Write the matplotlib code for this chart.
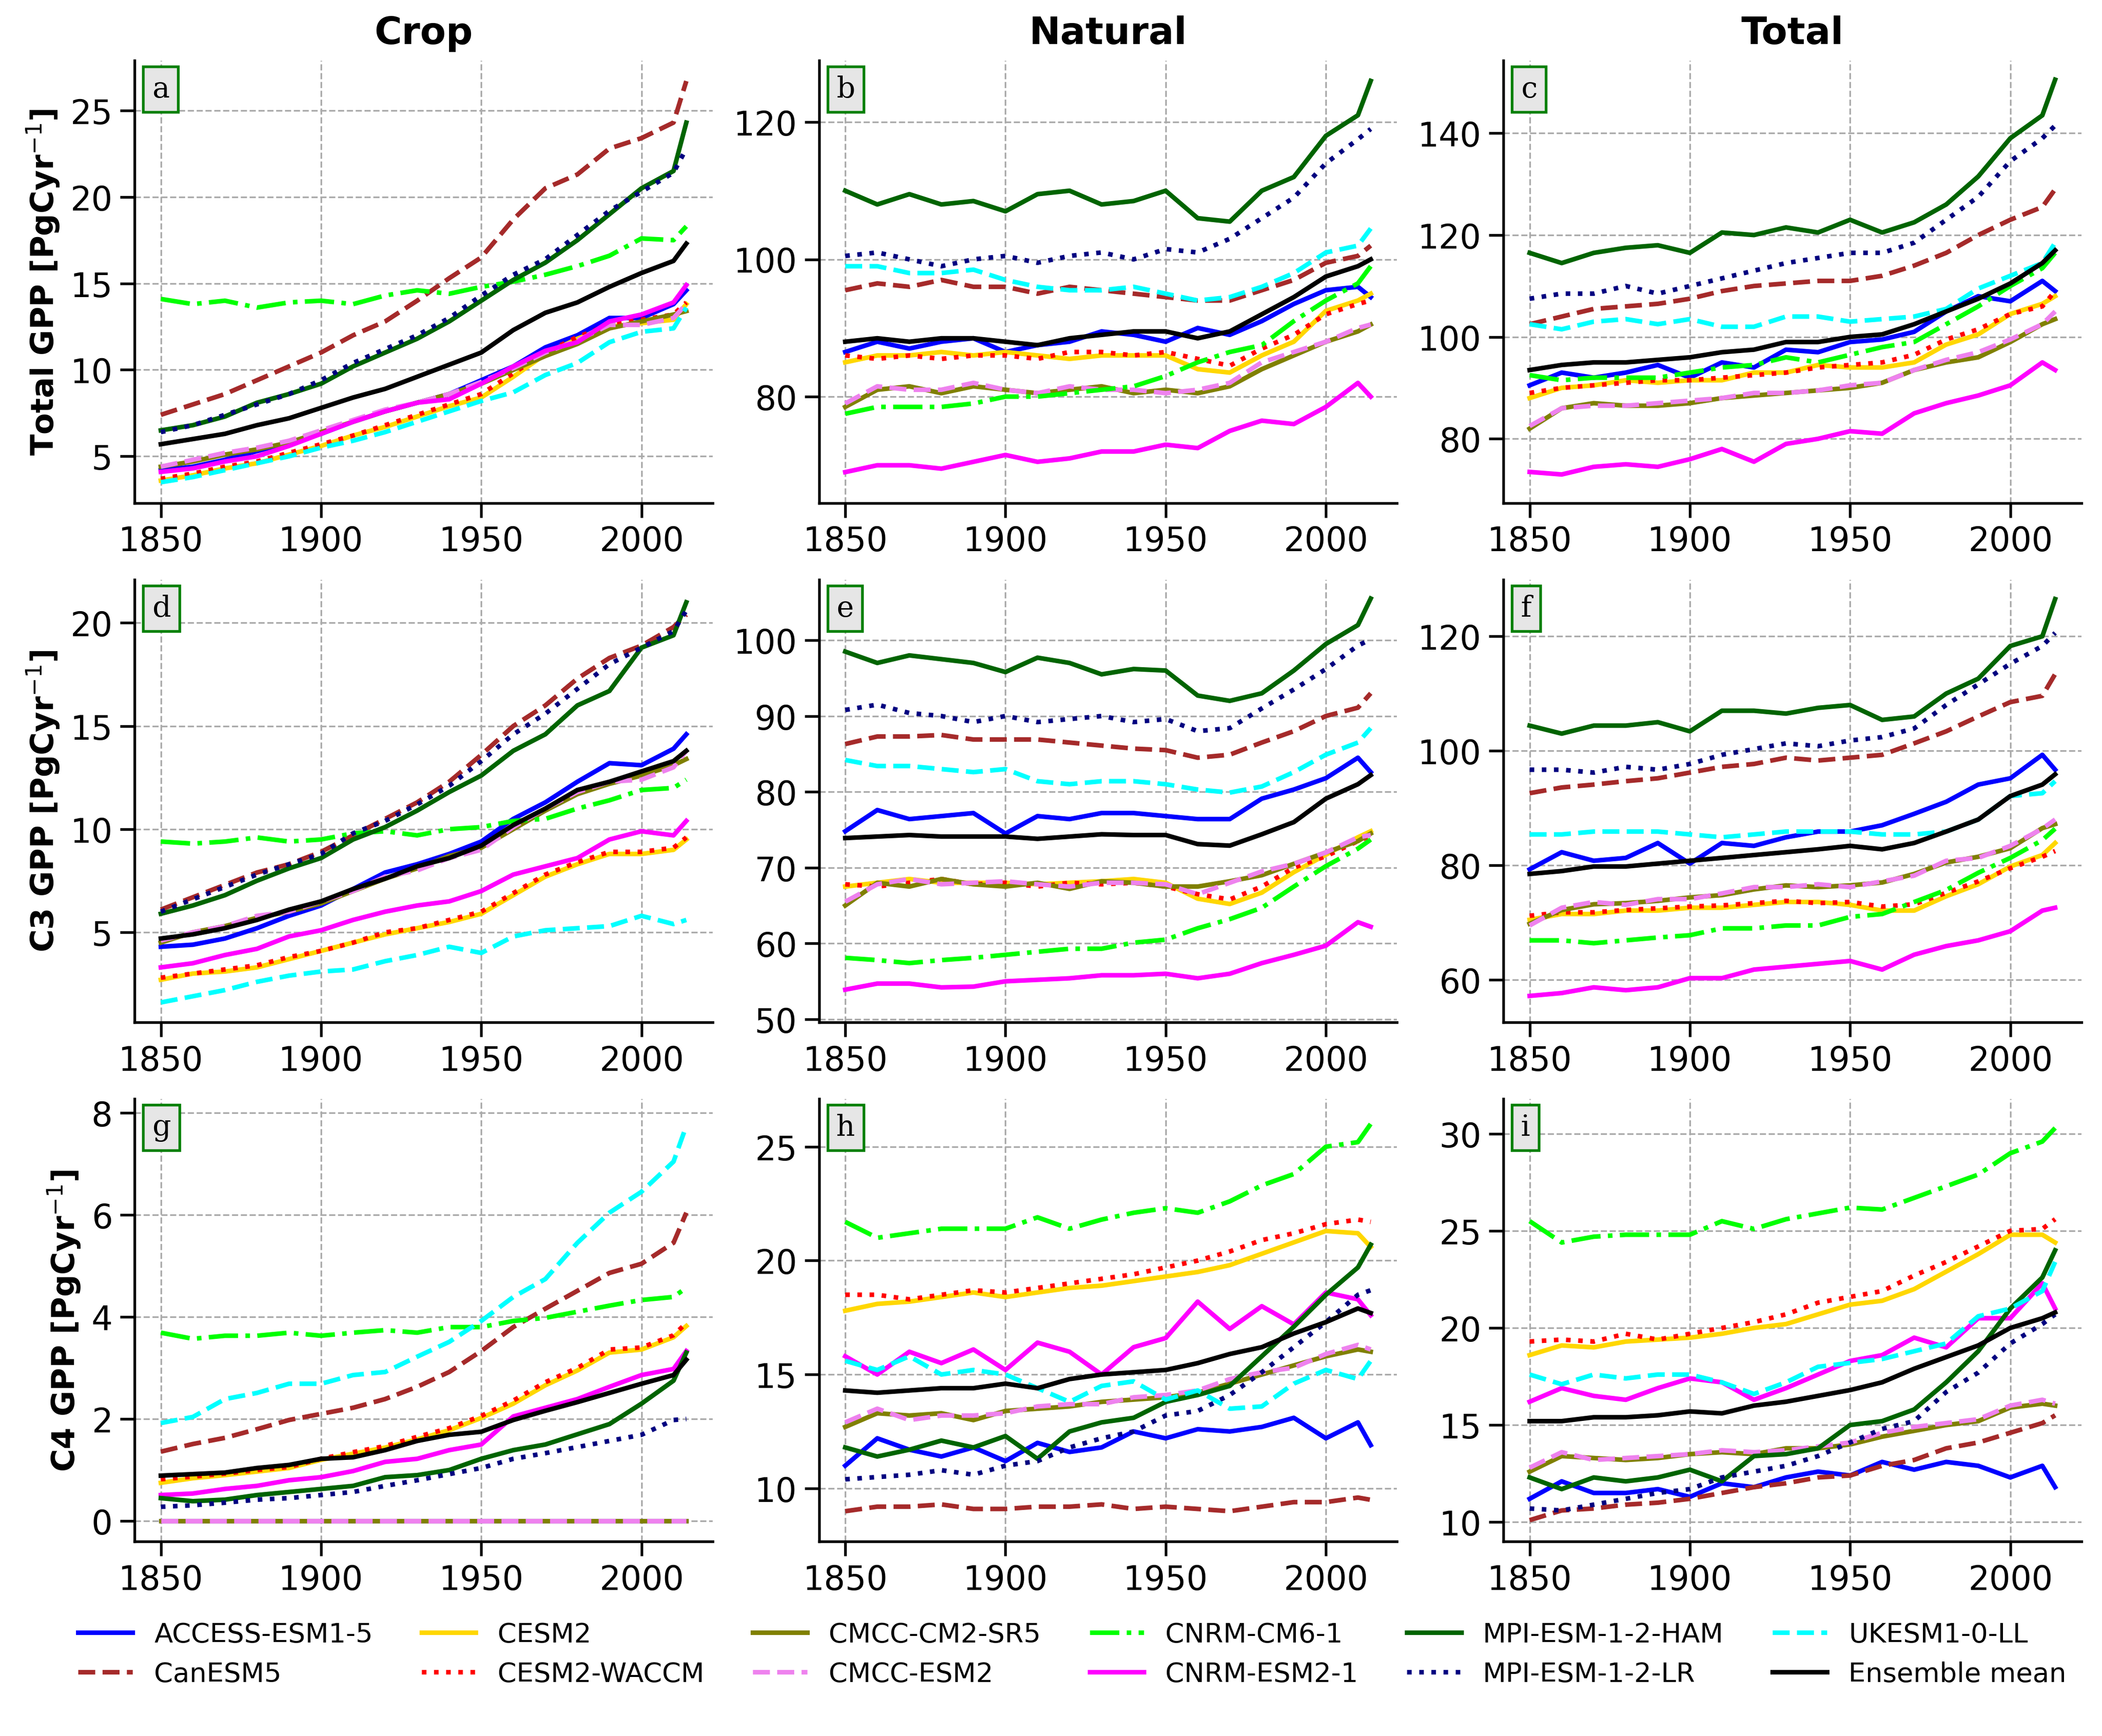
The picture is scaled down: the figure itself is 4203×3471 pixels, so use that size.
import matplotlib
matplotlib.use("Agg")
import matplotlib.pyplot as plt
from matplotlib.ticker import MultipleLocator

YEARS = [1850, 1860, 1870, 1880, 1890, 1900, 1910, 1920, 1930, 1940,
         1950, 1960, 1970, 1980, 1990, 2000, 2010, 2014]

MODELS = ["ACCESS-ESM1-5", "CanESM5", "CESM2", "CESM2-WACCM", "CMCC-CM2-SR5",
          "CMCC-ESM2", "CNRM-CM6-1", "CNRM-ESM2-1", "MPI-ESM-1-2-HAM",
          "MPI-ESM-1-2-LR", "UKESM1-0-LL", "Ensemble mean"]

COLUMN_TITLES = ["Crop", "Natural", "Total"]
ROW_LABELS = ["Total GPP [PgCyr$^{-1}$]", "C3 GPP [PgCyr$^{-1}$]", "C4 GPP [PgCyr$^{-1}$]"]
PANEL_LETTERS = ["a", "b", "c", "d", "e", "f", "g", "h", "i"]
X_TICKS = [1850, 1900, 1950, 2000]
Y_STEPS = [5, 20, 20, 5, 10, 20, 2, 5, 5]
Y_LIMITS = [(2.3, 27.9), (64.5, 129.0), (67.4, 154.3),
            (0.64, 22.1), (49.6, 108.0), (52.6, 129.9),
            (-0.4, 8.27), (7.67, 27.1), (9.0, 31.8)]

# ---- panel a: Total GPP, crop ----
panel_a = {
    "ACCESS-ESM1-5": [4.2, 4.4, 4.8, 5.3, 5.8, 6.3, 7.0, 7.6, 8.1, 8.6, 9.4, 10.2, 11.3, 12.0, 13.0, 13.0, 13.8, 14.6],
    "CanESM5": [7.4, 8.0, 8.6, 9.4, 10.2, 11.0, 12.0, 12.8, 14.0, 15.3, 16.5, 18.7, 20.5, 21.3, 22.8, 23.4, 24.3, 26.7],
    "CESM2": [3.6, 3.9, 4.3, 4.6, 5.1, 5.6, 6.2, 6.7, 7.3, 7.9, 8.4, 9.6, 10.9, 11.8, 12.5, 12.7, 12.9, 13.8],
    "CESM2-WACCM": [3.7, 4.0, 4.4, 4.7, 5.2, 5.7, 6.2, 6.8, 7.4, 8.0, 8.6, 9.8, 11.0, 11.9, 12.6, 12.9, 13.2, 13.9],
    "CMCC-CM2-SR5": [4.4, 4.7, 5.1, 5.4, 5.8, 6.4, 7.0, 7.6, 8.1, 8.6, 9.2, 10.0, 10.8, 11.5, 12.4, 12.8, 13.2, 13.4],
    "CMCC-ESM2": [4.4, 4.8, 5.2, 5.5, 5.9, 6.5, 7.1, 7.7, 8.1, 8.6, 9.3, 10.1, 11.0, 11.7, 12.6, 12.6, 13.0, 13.8],
    "CNRM-CM6-1": [14.1, 13.8, 14.0, 13.6, 13.9, 14.0, 13.8, 14.3, 14.6, 14.4, 14.8, 15.1, 15.5, 16.0, 16.6, 17.6, 17.5, 18.3],
    "CNRM-ESM2-1": [4.1, 4.3, 4.7, 5.0, 5.6, 6.3, 7.0, 7.6, 8.1, 8.3, 9.2, 10.2, 11.1, 11.6, 12.8, 13.2, 13.9, 14.9],
    "MPI-ESM-1-2-HAM": [6.5, 6.8, 7.3, 8.1, 8.6, 9.2, 10.2, 11.0, 11.8, 12.8, 14.0, 15.2, 16.2, 17.5, 19.0, 20.5, 21.5, 24.3],
    "MPI-ESM-1-2-LR": [6.4, 6.8, 7.4, 8.0, 8.6, 9.4, 10.4, 11.2, 12.0, 13.0, 14.3, 15.5, 16.4, 17.8, 19.2, 20.3, 21.4, 22.8],
    "UKESM1-0-LL": [3.5, 3.8, 4.2, 4.6, 5.0, 5.5, 5.9, 6.4, 7.0, 7.6, 8.2, 8.7, 9.7, 10.4, 11.6, 12.2, 12.4, 13.6],
    "Ensemble mean": [5.7, 6.0, 6.3, 6.8, 7.2, 7.8, 8.4, 8.9, 9.6, 10.3, 11.0, 12.3, 13.3, 13.9, 14.8, 15.6, 16.3, 17.3],
}

# ---- panel b: Total GPP, natural ----
panel_b = {
    "ACCESS-ESM1-5": [86.5, 88, 87, 88, 88.5, 86.5, 87.5, 88, 89.5, 89, 88, 90, 89, 91, 93.5, 95.5, 96, 94.5],
    "CanESM5": [95.5, 96.5, 96, 97, 96, 96, 95, 96, 95.5, 95, 94.5, 94, 94, 95.5, 97, 99.5, 100.5, 102],
    "CESM2": [85, 86, 86, 86.5, 86, 86.5, 86, 85.5, 86, 86, 86, 84, 83.5, 86, 88, 92.5, 94, 95],
    "CESM2-WACCM": [86, 85.5, 86, 85.5, 86, 86, 85.5, 86.5, 86.5, 86, 86.5, 85.5, 84.5, 87, 89, 92, 93.5, 94],
    "CMCC-CM2-SR5": [78.5, 81, 81.5, 80.5, 81.5, 81, 80.5, 81, 81.5, 80.5, 81, 80.5, 81.5, 84, 86, 88, 89.5, 90.5],
    "CMCC-ESM2": [79, 81.5, 81, 81, 82, 81, 80.5, 81.5, 81, 81, 80.5, 81, 82, 85, 86.5, 88, 90, 90.5],
    "CNRM-CM6-1": [77.5, 78.5, 78.5, 78.5, 79, 80, 80, 80.5, 81, 81.5, 83, 85, 86.5, 87.5, 91, 94, 96.5, 99],
    "CNRM-ESM2-1": [69, 70, 70, 69.5, 70.5, 71.5, 70.5, 71, 72, 72, 73, 72.5, 75, 76.5, 76, 78.5, 82, 80],
    "MPI-ESM-1-2-HAM": [110, 108, 109.5, 108, 108.5, 107, 109.5, 110, 108, 108.5, 110, 106, 105.5, 110, 112, 118, 121, 126],
    "MPI-ESM-1-2-LR": [100.5, 101, 100, 99, 100, 100.5, 99.5, 100.5, 101, 100, 101.5, 101, 103, 106, 109, 114, 117.5, 119],
    "UKESM1-0-LL": [99, 99, 98, 98, 98.5, 97, 96, 95.5, 95.5, 96, 95, 94, 94.5, 96, 98, 101, 102, 104.5],
    "Ensemble mean": [88, 88.5, 88, 88.5, 88.5, 88, 87.5, 88.5, 89, 89.5, 89.5, 88.5, 89.5, 92, 94.5, 97.5, 99, 100],
}

# ---- panel c: Total GPP, total ----
panel_c = {
    "ACCESS-ESM1-5": [90.5, 93, 92, 93, 94.5, 92, 95, 94, 97.5, 97, 99, 99.5, 101, 105, 108, 107, 111, 109],
    "CanESM5": [102.5, 104, 105.5, 106, 106.5, 107.5, 109, 110, 110.5, 111, 111, 112, 114, 116.5, 120, 123, 125.5, 129],
    "CESM2": [88, 90, 90.5, 91.5, 91, 91.5, 91.5, 93, 93, 94.5, 94, 94, 95, 98.5, 100.5, 104.5, 106.5, 108],
    "CESM2-WACCM": [89, 90, 90.5, 91, 91.5, 91.5, 92, 92.5, 93, 94, 94.5, 95, 96.5, 99.5, 101.5, 104.5, 106, 109],
    "CMCC-CM2-SR5": [82, 86, 87, 86.5, 86.5, 87, 88, 88.5, 89, 89.5, 90, 91, 93.5, 95, 96, 99, 102.5, 103.5],
    "CMCC-ESM2": [82.5, 86, 86.5, 86.5, 87, 87.5, 88, 89, 89, 89.5, 90.5, 91, 93.5, 95.5, 97, 99.5, 102.5, 105],
    "CNRM-CM6-1": [92.5, 91.5, 92, 92, 92, 93, 94, 94.5, 96, 95, 96.5, 98, 99, 102.5, 106, 110, 113.5, 116.5],
    "CNRM-ESM2-1": [73.5, 73, 74.5, 75, 74.5, 76, 78, 75.5, 79, 80, 81.5, 81, 85, 87, 88.5, 90.5, 95, 93.5],
    "MPI-ESM-1-2-HAM": [116.5, 114.5, 116.5, 117.5, 118, 116.5, 120.5, 120, 121.5, 120.5, 123, 120.5, 122.5, 126, 131.5, 139, 143.5, 150.5],
    "MPI-ESM-1-2-LR": [107.5, 108.5, 108.5, 110, 108.5, 110, 111.5, 113, 114.5, 115.5, 116.5, 116.5, 118.5, 123, 127.5, 134.5, 139, 141.5],
    "UKESM1-0-LL": [102.5, 101.5, 103, 103.5, 102.5, 103.5, 102, 102, 104, 104, 103, 103.5, 104, 105.5, 109.5, 112, 114.5, 118.5],
    "Ensemble mean": [93.5, 94.5, 95, 95, 95.5, 96, 97, 97.5, 99, 99, 100, 100.5, 102.5, 105, 107.5, 110.5, 114.5, 117],
}

# ---- panel d: C3 GPP, crop ----
panel_d = {
    "ACCESS-ESM1-5": [4.3, 4.4, 4.7, 5.2, 5.8, 6.3, 7.1, 7.9, 8.3, 8.8, 9.4, 10.5, 11.3, 12.3, 13.2, 13.1, 13.9, 14.6],
    "CanESM5": [6.1, 6.7, 7.3, 7.9, 8.3, 8.9, 9.7, 10.5, 11.3, 12.3, 13.6, 15.0, 16.0, 17.3, 18.3, 18.9, 19.8, 20.4],
    "CESM2": [2.7, 3.0, 3.1, 3.3, 3.7, 4.1, 4.5, 4.9, 5.2, 5.5, 5.9, 6.8, 7.7, 8.3, 8.8, 8.8, 9.0, 9.5],
    "CESM2-WACCM": [2.8, 3.0, 3.2, 3.4, 3.8, 4.1, 4.5, 5.0, 5.2, 5.6, 6.0, 6.9, 7.8, 8.4, 8.9, 8.9, 9.1, 9.6],
    "CMCC-CM2-SR5": [4.5, 5.0, 5.3, 5.7, 6.0, 6.4, 7.0, 7.6, 8.1, 8.7, 9.1, 10.0, 10.9, 11.7, 12.2, 12.6, 13.1, 13.4],
    "CMCC-ESM2": [4.6, 5.0, 5.3, 5.8, 6.0, 6.5, 7.0, 7.7, 8.0, 8.6, 9.0, 10.1, 11.0, 11.8, 12.3, 12.4, 13.0, 13.8],
    "CNRM-CM6-1": [9.4, 9.3, 9.4, 9.6, 9.4, 9.5, 9.8, 9.9, 9.7, 10.0, 10.1, 10.4, 10.5, 11.0, 11.4, 11.9, 12.0, 12.4],
    "CNRM-ESM2-1": [3.3, 3.5, 3.9, 4.2, 4.8, 5.1, 5.6, 6.0, 6.3, 6.5, 7.0, 7.8, 8.2, 8.6, 9.5, 9.9, 9.7, 10.4],
    "MPI-ESM-1-2-HAM": [5.9, 6.3, 6.8, 7.5, 8.1, 8.6, 9.5, 10.1, 10.9, 11.8, 12.6, 13.8, 14.6, 16.0, 16.7, 18.8, 19.4, 21.0],
    "MPI-ESM-1-2-LR": [6.0, 6.6, 7.2, 7.8, 8.3, 8.8, 9.8, 10.4, 11.2, 12.1, 13.3, 14.6, 15.6, 16.8, 18.0, 18.8, 19.6, 20.6],
    "UKESM1-0-LL": [1.6, 1.9, 2.2, 2.6, 2.9, 3.1, 3.2, 3.6, 3.9, 4.3, 4.0, 4.8, 5.1, 5.2, 5.3, 5.8, 5.4, 5.6],
    "Ensemble mean": [4.7, 4.9, 5.2, 5.6, 6.1, 6.5, 7.1, 7.6, 8.2, 8.6, 9.2, 10.2, 11.0, 11.9, 12.3, 12.8, 13.3, 13.8],
}

# ---- panel e: C3 GPP, natural ----
panel_e = {
    "ACCESS-ESM1-5": [74.8, 77.6, 76.4, 76.8, 77.2, 74.5, 76.8, 76.4, 77.2, 77.2, 76.8, 76.4, 76.4, 79.1, 80.3, 81.8, 84.5, 82.6],
    "CanESM5": [86.3, 87.3, 87.3, 87.5, 86.9, 86.9, 86.9, 86.5, 86.1, 85.7, 85.5, 84.5, 84.9, 86.5, 88, 90, 91.1, 93],
    "CESM2": [67.5, 68, 68.5, 68, 68, 68, 67.8, 68, 68.2, 68.5, 68, 65.9, 65.2, 66.7, 69.4, 71.7, 74, 74.8],
    "CESM2-WACCM": [67.8, 67.5, 68, 68.5, 67.8, 68, 67.5, 68, 67.8, 68, 67.5, 66.5, 65.8, 67.5, 70, 71.5, 73.5, 74.2],
    "CMCC-CM2-SR5": [65, 68, 67.5, 68.5, 67.8, 67.5, 68, 67.2, 68.2, 68, 67.5, 67.5, 68.2, 69, 70.5, 72, 73.5, 74.5],
    "CMCC-ESM2": [65.5, 67.8, 68.5, 67.8, 68, 68.2, 67.8, 67.5, 68, 68, 67.8, 66.5, 68, 69.5, 70.5, 72, 74, 74.3],
    "CNRM-CM6-1": [58.1, 57.8, 57.4, 57.8, 58.1, 58.5, 58.9, 59.3, 59.3, 60.1, 60.5, 62, 63.2, 64.7, 67.5, 70.2, 72.5, 73.7],
    "CNRM-ESM2-1": [53.9, 54.7, 54.7, 54.2, 54.3, 55, 55.2, 55.4, 55.8, 55.8, 56, 55.4, 56, 57.4, 58.5, 59.7, 62.8, 62.2],
    "MPI-ESM-1-2-HAM": [98.5, 97, 98, 97.5, 97, 95.8, 97.7, 97, 95.5, 96.2, 96, 92.7, 92, 93, 96, 99.5, 102, 105.5],
    "MPI-ESM-1-2-LR": [90.8, 91.5, 90.4, 90, 89.2, 90, 89.2, 89.6, 90, 89.2, 89.6, 88, 88.4, 91, 93.5, 96.2, 99.3, 100.1],
    "UKESM1-0-LL": [84.2, 83.4, 83.4, 83, 82.6, 83, 81.4, 81, 81.4, 81.4, 81, 80.3, 79.9, 80.7, 82.6, 84.9, 86.5, 88.4],
    "Ensemble mean": [73.9, 74.1, 74.3, 74.1, 74.1, 74.1, 73.8, 74.1, 74.4, 74.3, 74.3, 73.1, 72.9, 74.4, 76, 79.1, 81, 82.2],
}

# ---- panel f: C3 GPP, total ----
panel_f = {
    "ACCESS-ESM1-5": [79.3, 82.3, 80.8, 81.3, 83.9, 80.3, 83.9, 83.4, 84.9, 85.9, 85.9, 87, 89, 91.1, 94.1, 95.2, 99.3, 96.7],
    "CanESM5": [92.6, 93.6, 94.1, 94.7, 95.2, 96.2, 97.2, 97.7, 98.8, 98.3, 98.8, 99.3, 101.3, 103.4, 106, 108.5, 109.6, 113.4],
    "CESM2": [70.5, 71.5, 71.5, 72.1, 72.1, 72.6, 72.6, 73.1, 73.6, 73.6, 73.1, 72.1, 72.1, 74.6, 76.7, 79.8, 81.8, 83.9],
    "CESM2-WACCM": [71.2, 71.8, 71.8, 72.2, 72.5, 72.8, 73, 73.4, 73.8, 73.4, 73.6, 72.8, 73.2, 75.2, 77.2, 79.5, 81.5, 82.5],
    "CMCC-CM2-SR5": [69.8, 72.2, 73.2, 73.4, 73.8, 74.4, 74.8, 75.8, 76.5, 76.2, 76.5, 77, 78.5, 80.5, 81.5, 83, 86.5, 87.2],
    "CMCC-ESM2": [69.5, 72.6, 73.6, 73.1, 74.1, 74.1, 75.1, 76.2, 76.2, 76.7, 76.2, 77.2, 78.2, 80.8, 81.3, 83.4, 86.4, 88],
    "CNRM-CM6-1": [66.9, 66.9, 66.4, 66.9, 67.4, 67.8, 69, 69, 69.5, 69.5, 71, 71.5, 73.6, 75.7, 78.7, 81.3, 84.4, 86.4],
    "CNRM-ESM2-1": [57.2, 57.7, 58.7, 58.2, 58.7, 60.3, 60.3, 61.8, 62.3, 62.8, 63.3, 61.8, 64.4, 65.9, 66.9, 68.5, 72.1, 72.6],
    "MPI-ESM-1-2-HAM": [104.4, 103, 104.4, 104.4, 105, 103.4, 107, 107, 106.5, 107.5, 108, 105.4, 106, 110, 112.6, 118.3, 120, 126.5],
    "MPI-ESM-1-2-LR": [96.7, 96.7, 96.2, 97.2, 96.7, 97.7, 99.3, 100.3, 101.3, 100.8, 101.8, 102.4, 103.9, 108, 111.6, 115.2, 118.3, 120.6],
    "UKESM1-0-LL": [85.4, 85.4, 85.9, 85.9, 85.9, 85.4, 84.9, 85.4, 85.9, 85.9, 85.9, 85.4, 85.4, 85.9, 88, 92.1, 92.6, 94.7],
    "Ensemble mean": [78.5, 79, 79.8, 79.8, 80.3, 80.8, 81.3, 81.8, 82.3, 82.8, 83.4, 82.8, 83.9, 85.9, 88, 92.1, 94.1, 95.9],
}

# ---- panel g: C4 GPP, crop ----
panel_g = {
    "ACCESS-ESM1-5": [0.0, 0.0, 0.0, 0.0, 0.0, 0.0, 0.0, 0.0, 0.0, 0.0, 0.0, 0.0, 0.0, 0.0, 0.0, 0.0, 0.0, 0.0],
    "CanESM5": [1.36, 1.51, 1.63, 1.8, 1.98, 2.1, 2.22, 2.39, 2.63, 2.92, 3.33, 3.8, 4.16, 4.51, 4.86, 5.04, 5.45, 6.04],
    "CESM2": [0.75, 0.84, 0.9, 0.97, 1.04, 1.2, 1.32, 1.44, 1.6, 1.78, 2.02, 2.3, 2.66, 2.95, 3.3, 3.36, 3.6, 3.82],
    "CESM2-WACCM": [0.82, 0.87, 0.93, 1.0, 1.06, 1.22, 1.35, 1.47, 1.65, 1.82, 2.06, 2.36, 2.72, 3.0, 3.36, 3.4, 3.64, 3.88],
    "CMCC-CM2-SR5": [0.0, 0.0, 0.0, 0.0, 0.0, 0.0, 0.0, 0.0, 0.0, 0.0, 0.0, 0.0, 0.0, 0.0, 0.0, 0.0, 0.0, 0.0],
    "CMCC-ESM2": [0.0, 0.0, 0.0, 0.0, 0.0, 0.0, 0.0, 0.0, 0.0, 0.0, 0.0, 0.0, 0.0, 0.0, 0.0, 0.0, 0.0, 0.0],
    "CNRM-CM6-1": [3.69, 3.57, 3.63, 3.63, 3.69, 3.63, 3.69, 3.74, 3.69, 3.8, 3.8, 3.92, 3.98, 4.1, 4.22, 4.33, 4.39, 4.57],
    "CNRM-ESM2-1": [0.51, 0.54, 0.63, 0.69, 0.8, 0.86, 0.98, 1.16, 1.22, 1.39, 1.5, 2.05, 2.22, 2.39, 2.63, 2.86, 2.98, 3.33],
    "MPI-ESM-1-2-HAM": [0.45, 0.39, 0.42, 0.51, 0.57, 0.63, 0.69, 0.86, 0.9, 1.0, 1.22, 1.39, 1.5, 1.7, 1.9, 2.3, 2.75, 3.3],
    "MPI-ESM-1-2-LR": [0.28, 0.31, 0.36, 0.42, 0.45, 0.51, 0.57, 0.69, 0.8, 0.92, 1.04, 1.22, 1.33, 1.45, 1.57, 1.69, 1.98, 2.0],
    "UKESM1-0-LL": [1.92, 2.04, 2.39, 2.51, 2.69, 2.69, 2.86, 2.92, 3.22, 3.51, 3.92, 4.39, 4.74, 5.45, 6.04, 6.45, 7.04, 7.74],
    "Ensemble mean": [0.89, 0.92, 0.95, 1.04, 1.1, 1.22, 1.25, 1.39, 1.57, 1.69, 1.75, 1.98, 2.16, 2.33, 2.51, 2.69, 2.86, 3.16],
}

# ---- panel h: C4 GPP, natural ----
panel_h = {
    "ACCESS-ESM1-5": [11.0, 12.2, 11.7, 11.4, 11.8, 11.2, 12.0, 11.6, 11.8, 12.5, 12.2, 12.6, 12.5, 12.7, 13.1, 12.2, 12.9, 11.9],
    "CanESM5": [9.0, 9.2, 9.2, 9.3, 9.1, 9.1, 9.2, 9.2, 9.3, 9.1, 9.2, 9.1, 9.0, 9.2, 9.4, 9.4, 9.6, 9.5],
    "CESM2": [17.8, 18.1, 18.2, 18.4, 18.6, 18.4, 18.6, 18.8, 18.9, 19.1, 19.3, 19.5, 19.8, 20.3, 20.8, 21.3, 21.2, 20.6],
    "CESM2-WACCM": [18.5, 18.5, 18.3, 18.5, 18.7, 18.6, 18.8, 19.0, 19.2, 19.4, 19.7, 20.0, 20.4, 20.9, 21.2, 21.6, 21.8, 21.7],
    "CMCC-CM2-SR5": [12.7, 13.3, 13.2, 13.3, 13.0, 13.4, 13.5, 13.6, 13.8, 13.9, 14.0, 14.2, 14.6, 15.0, 15.4, 15.8, 16.1, 16.0],
    "CMCC-ESM2": [12.9, 13.5, 13.0, 13.2, 13.2, 13.3, 13.6, 13.7, 13.7, 14.0, 14.1, 14.3, 14.8, 15.1, 15.3, 15.9, 16.3, 16.1],
    "CNRM-CM6-1": [21.7, 21.0, 21.2, 21.4, 21.4, 21.4, 21.9, 21.4, 21.8, 22.1, 22.3, 22.1, 22.6, 23.3, 23.8, 25.0, 25.2, 26.0],
    "CNRM-ESM2-1": [15.8, 15.0, 16.0, 15.5, 16.1, 15.2, 16.4, 16.0, 15.0, 16.2, 16.6, 18.2, 17.0, 18.0, 17.2, 18.6, 18.3, 17.6],
    "MPI-ESM-1-2-HAM": [11.8, 11.4, 11.7, 12.1, 11.8, 12.3, 11.3, 12.5, 12.9, 13.1, 13.8, 14.1, 14.5, 15.8, 17.1, 18.5, 19.7, 20.7],
    "MPI-ESM-1-2-LR": [10.4, 10.5, 10.6, 10.8, 10.6, 11.0, 11.2, 11.8, 12.2, 12.5, 13.2, 13.4, 14.1, 15.1, 16.2, 17.3, 18.5, 18.7],
    "UKESM1-0-LL": [15.6, 15.2, 15.8, 15.0, 15.2, 15.0, 14.4, 13.8, 14.5, 14.7, 13.9, 14.3, 13.5, 13.6, 14.6, 15.2, 14.8, 15.6],
    "Ensemble mean": [14.3, 14.2, 14.3, 14.4, 14.4, 14.6, 14.4, 14.8, 15.0, 15.1, 15.2, 15.5, 15.9, 16.2, 16.8, 17.3, 17.9, 17.7],
}

# ---- panel i: C4 GPP, total ----
panel_i = {
    "ACCESS-ESM1-5": [11.2, 12.1, 11.5, 11.5, 11.7, 11.3, 12.0, 11.8, 12.3, 12.6, 12.4, 13.1, 12.7, 13.1, 12.9, 12.3, 12.9, 11.8],
    "CanESM5": [10.1, 10.6, 10.7, 10.9, 11.0, 11.2, 11.5, 11.8, 12.0, 12.3, 12.4, 12.9, 13.2, 13.8, 14.1, 14.6, 15.1, 15.5],
    "CESM2": [18.6, 19.1, 19.0, 19.3, 19.4, 19.5, 19.7, 20.0, 20.2, 20.7, 21.2, 21.4, 22.0, 22.9, 23.8, 24.8, 24.8, 24.4],
    "CESM2-WACCM": [19.3, 19.4, 19.3, 19.7, 19.4, 19.7, 20.0, 20.3, 20.7, 21.3, 21.6, 21.9, 22.7, 23.4, 24.2, 25.0, 25.1, 25.6],
    "CMCC-CM2-SR5": [12.6, 13.4, 13.3, 13.2, 13.3, 13.5, 13.6, 13.5, 13.8, 13.8, 14.0, 14.4, 14.7, 15.0, 15.2, 15.9, 16.1, 16.0],
    "CMCC-ESM2": [12.8, 13.6, 13.2, 13.3, 13.4, 13.5, 13.7, 13.6, 13.7, 13.9, 14.1, 14.6, 14.9, 15.1, 15.3, 16.0, 16.3, 16.1],
    "CNRM-CM6-1": [25.5, 24.4, 24.7, 24.8, 24.8, 24.8, 25.5, 25.1, 25.6, 25.9, 26.2, 26.1, 26.7, 27.3, 27.9, 29.0, 29.6, 30.3],
    "CNRM-ESM2-1": [16.2, 16.9, 16.5, 16.3, 16.9, 17.4, 17.2, 16.3, 16.9, 17.6, 18.3, 18.6, 19.5, 19.0, 20.5, 20.5, 22.3, 21.0],
    "MPI-ESM-1-2-HAM": [12.3, 11.7, 12.3, 12.1, 12.3, 12.7, 12.1, 13.4, 13.5, 13.8, 15.0, 15.2, 15.8, 17.2, 18.8, 21.0, 22.6, 24.0],
    "MPI-ESM-1-2-LR": [10.7, 10.6, 10.9, 11.2, 11.5, 11.7, 12.3, 12.6, 12.9, 13.4, 14.1, 14.8, 15.2, 16.7, 17.7, 19.2, 20.2, 20.7],
    "UKESM1-0-LL": [17.6, 17.1, 17.6, 17.4, 17.6, 17.6, 17.2, 16.6, 17.2, 18.0, 18.2, 18.4, 18.8, 19.2, 20.6, 21.0, 21.9, 23.4],
    "Ensemble mean": [15.2, 15.2, 15.4, 15.4, 15.5, 15.7, 15.6, 16.0, 16.2, 16.5, 16.8, 17.2, 17.9, 18.5, 19.1, 20.0, 20.5, 20.8],
}

PANELS = [panel_a, panel_b, panel_c, panel_d, panel_e, panel_f, panel_g, panel_h, panel_i]

STYLES = {
    "ACCESS-ESM1-5": ("blue", "-"),
    "CanESM5": ("brown", "--"),
    "CESM2": ("gold", "-"),
    "CESM2-WACCM": ("red", ":"),
    "CMCC-CM2-SR5": ("olive", "-"),
    "CMCC-ESM2": ("violet", "--"),
    "CNRM-CM6-1": ("lime", "-."),
    "CNRM-ESM2-1": ("magenta", "-"),
    "MPI-ESM-1-2-HAM": ("darkgreen", "-"),
    "MPI-ESM-1-2-LR": ("navy", ":"),
    "UKESM1-0-LL": ("cyan", "--"),
    "Ensemble mean": ("black", "-"),
}

plt.rcParams["font.family"] = ["DejaVu Sans"]

fig, axes = plt.subplots(3, 3, figsize=(14.013, 11.573), dpi=300)
fig.subplots_adjust(left=0.064, right=0.99, top=0.965, bottom=0.112,
                    wspace=0.184, hspace=0.173)

handles = []
for k, ax in enumerate(axes.flat):
    data = PANELS[k]
    for m in MODELS:
        c, ls = STYLES[m]
        ln, = ax.plot(YEARS, data[m], color=c, linestyle=ls, linewidth=2.2, label=m)
        if k == 0:
            handles.append(ln)
    ax.set_xticks(X_TICKS)
    ax.set_xlim(1841.8, 2022.2)
    ax.set_ylim(*Y_LIMITS[k])
    ax.yaxis.set_major_locator(MultipleLocator(Y_STEPS[k]))
    ax.grid(True, linestyle="--", color="#aaaaaa", linewidth=0.8)
    ax.spines["top"].set_visible(False)
    ax.spines["right"].set_visible(False)
    ax.spines["left"].set_linewidth(1.3)
    ax.spines["bottom"].set_linewidth(1.3)
    ax.tick_params(axis="both", labelsize=16, length=7, width=1.3)
    ax.text(0.03, 0.935, PANEL_LETTERS[k], transform=ax.transAxes,
            fontsize=14, family="DejaVu Serif", va="center", ha="left",
            bbox=dict(boxstyle="square,pad=0.3", facecolor="#e6e6e6",
                      edgecolor="green", linewidth=1.3))
    r, col = divmod(k, 3)
    if r == 0:
        ax.set_title(COLUMN_TITLES[col], fontsize=18, fontweight="bold", pad=8)
    if col == 0:
        ax.set_ylabel(ROW_LABELS[r], fontsize=15, fontweight="bold")

fig.legend(handles, MODELS, loc="center", bbox_to_anchor=(0.51, 0.047),
           ncol=6, frameon=False, fontsize=13, columnspacing=1.8,
           handlelength=2.0)

fig.savefig("out.png", dpi=300)
